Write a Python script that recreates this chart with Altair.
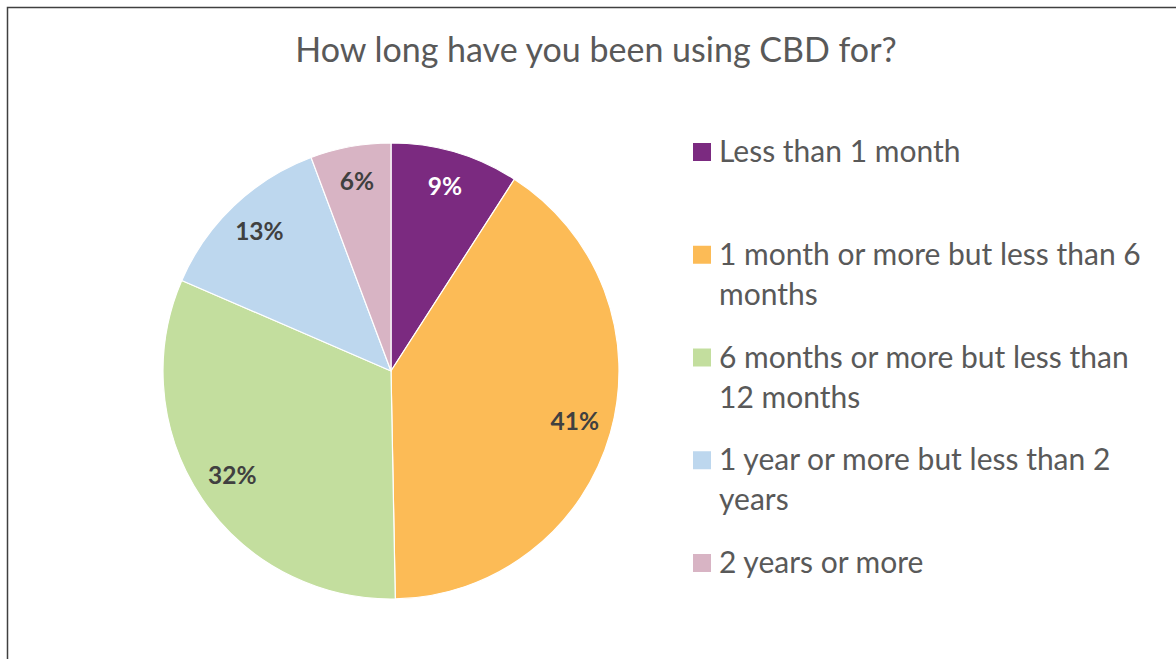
import altair as alt
import pandas as pd

title_text = "How long have you been using CBD for?"
categories = [
    "Less than 1 month",
    "1 month or more but less than 6 months",
    "6 months or more but less than 12 months",
    "1 year or more but less than 2 years",
    "2 years or more",
]
legend_lines = [
    "Less than 1 month",
    "1 month or more but less than 6\nmonths",
    "6 months or more but less than\n12 months",
    "1 year or more but less than 2\nyears",
    "2 years or more",
]
shares = [9.1, 40.6, 31.8, 12.8, 5.7]
colors = ["#7B2A80", "#FCBB56", "#C3DE9E", "#BDD7EE", "#D8B4C4"]

df = pd.DataFrame({
    "category": categories,
    "legend": legend_lines,
    "share": shares,
    "order": list(range(len(categories))),
})

FONT = "Lato"
cx, cy, R = 391, 371, 228

color_scale = alt.Scale(domain=categories, range=colors)
base = alt.Chart(df)

pie = base.mark_arc(outerRadius=R, stroke="white", strokeWidth=1.2).encode(
    theta=alt.Theta("share:Q", stack=True),
    color=alt.Color("category:N", scale=color_scale, legend=None),
    order=alt.Order("order:Q"),
    x=alt.value(cx),
    y=alt.value(cy),
)

labels = base.transform_calculate(
    label="format(datum.share, '.0f') + '%'"
).mark_text(radius=191, fontSize=24.5, fontWeight="bold", font=FONT).encode(
    theta=alt.Theta("share:Q", stack=True),
    order=alt.Order("order:Q"),
    text="label:N",
    color=alt.condition(alt.datum.category == categories[0], alt.value("white"), alt.value("#404040")),
    x=alt.value(cx),
    y=alt.value(cy),
)

ypos = alt.Y("category:N", sort=categories, axis=None,
             scale=alt.Scale(type="point", range=[152, 563], padding=0))

leg_sq = base.mark_square(size=324, opacity=1, filled=True).encode(
    x=alt.value(702),
    y=ypos,
    color=alt.Color("category:N", scale=color_scale, legend=None),
)

leg_txt = base.mark_text(
    align="left", baseline="alphabetic", dy=10, lineBreak="\n", lineHeight=40,
    fontSize=30, font=FONT, color="#595959",
).encode(x=alt.value(719), y=ypos, text="legend:N")

title = alt.Chart(pd.DataFrame({"t": [title_text]})).mark_text(
    align="center", baseline="alphabetic", fontSize=34, font=FONT, color="#595959"
).encode(x=alt.value(596), y=alt.value(62), text="t:N")

frame = alt.Chart(pd.DataFrame({"a": [0]})).mark_rect(
    filled=False, stroke="#404040", strokeWidth=1.5
).encode(x=alt.value(7.5), x2=alt.value(1200), y=alt.value(7.5), y2=alt.value(700))

chart = alt.layer(frame, pie, labels, leg_sq, leg_txt, title).properties(
    width=1176, height=659, padding=0,
    autosize=alt.AutoSizeParams(type="none"),
    background="white",
).configure_view(stroke=None)

chart.save("out.html", embed_options={"renderer": "svg", "actions": False})
